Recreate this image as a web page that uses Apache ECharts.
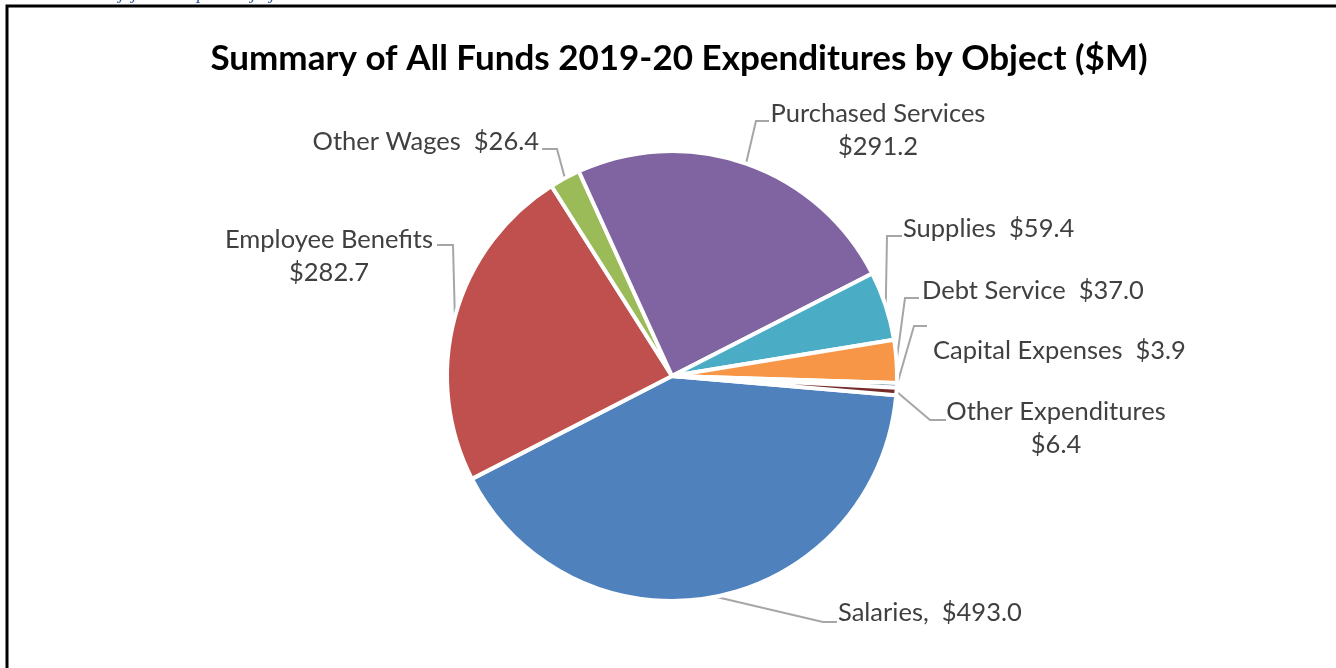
<!DOCTYPE html>
<html>
<head>
<meta charset="utf-8">
<title>Summary of All Funds 2019-20 Expenditures by Object</title>
<script src="https://cdn.jsdelivr.net/npm/echarts@6/dist/echarts.min.js"></script>
<style>
  html, body { margin: 0; padding: 0; background: #ffffff; }
  #chart { width: 1336px; height: 668px; }
</style>
</head>
<body>
<div id="chart"></div>
<script>
// Expenditure categories, in the order the slices run clockwise
const categories = [
  'Salaries',
  'Employee Benefits',
  'Other Wages',
  'Purchased Services',
  'Supplies',
  'Debt Service',
  'Capital Expenses',
  'Other Expenditures'
];
// Amounts in millions of dollars
const amounts = [493.0, 282.7, 26.4, 291.2, 59.4, 37.0, 3.9, 6.4];
// Text placed between a category name and its amount
const separators = [',  ', '\n', '  ', '\n', '  ', '  ', '  ', '\n'];

const sliceColors = ['#4F81BD', '#C0504D', '#9BBB59', '#8064A2', '#4BACC6', '#F79646', '#2C4D75', '#772C2A'];

// Where each label sits and how its leader line bends toward it
const labelPlacement = [
  { x: 838,  y: 613, align: 'left',   elbow: [823, 622], end: [837, 622] },
  { x: 329,  y: 256, align: 'center', elbow: [453, 245], end: [437, 245] },
  { x: 539,  y: 142, align: 'right',  elbow: [557, 149], end: [542, 149] },
  { x: 878,  y: 130, align: 'center', elbow: [756, 121], end: [769, 121] },
  { x: 903,  y: 229, align: 'left',   elbow: [887, 236], end: [902, 236] },
  { x: 922,  y: 291, align: 'left',   elbow: [905, 298], end: [919, 298] },
  { x: 933,  y: 351, align: 'left',   elbow: [914, 326], end: [927, 326] },
  { x: 1056, y: 428, align: 'center', elbow: [930, 420], end: [946, 420] }
];

const pieData = categories.map((name, i) => ({
  name: name,
  value: amounts[i],
  itemStyle: { color: sliceColors[i] }
}));

const chart = echarts.init(document.getElementById('chart'), null, { renderer: 'canvas' });

chart.setOption({
  backgroundColor: '#ffffff',
  animation: false,
  title: {
    text: 'Summary of All Funds 2019-20 Expenditures by Object ($M)',
    left: 674,
    top: 54,
    textAlign: 'center',
    textVerticalAlign: 'middle',
    textStyle: {
      fontFamily: 'Lato',
      fontWeight: 'bold',
      fontSize: 35,
      color: '#000000'
    }
  },
  graphic: [
    // chart frame
    {
      type: 'rect',
      shape: { x: 7, y: 6, width: 1345, height: 700 },
      style: { fill: 'none', stroke: '#000000', lineWidth: 3 },
      silent: true
    },
    // descenders of the caption line running above the frame
    { type: 'text', x: 119, y: -15, style: { text: 'j', font: 'italic 18px "Liberation Serif"', fill: '#2F5597' } },
    { type: 'text', x: 132, y: -15, style: { text: 'j', font: 'italic 18px "Liberation Serif"', fill: '#2F5597' } },
    { type: 'text', x: 197, y: -15, style: { text: 'p', font: 'italic 18px "Liberation Serif"', fill: '#2F5597' } },
    { type: 'text', x: 251, y: -15, style: { text: 'j', font: 'italic 18px "Liberation Serif"', fill: '#2F5597' } },
    { type: 'text', x: 270, y: -15, style: { text: 'j', font: 'italic 18px "Liberation Serif"', fill: '#2F5597' } }
  ],
  series: [{
    type: 'pie',
    center: [672, 376],
    radius: ['0%', 225],
    startAngle: -4.9,
    clockwise: true,
    avoidLabelOverlap: false,
    data: pieData,
    itemStyle: {
      borderColor: '#ffffff',
      borderWidth: 4
    },
    label: {
      show: true,
      position: 'outside',
      formatter: (p) => p.name + separators[p.dataIndex] + '$' + p.value.toFixed(1),
      fontFamily: 'Lato',
      fontSize: 25.5,
      lineHeight: 33,
      color: '#404040'
    },
    labelLine: {
      show: true,
      length: 20,
      length2: 15,
      smooth: false,
      lineStyle: { color: '#A6A6A6', width: 2 }
    },
    labelLayout: function (params) {
      const place = labelPlacement[params.dataIndex];
      const start = params.labelLinePoints ? params.labelLinePoints[0] : place.elbow;
      return {
        x: place.x,
        y: place.y,
        align: place.align,
        verticalAlign: 'middle',
        labelLinePoints: [start, place.elbow, place.end]
      };
    },
    emphasis: { disabled: true }
  }]
});
</script>
</body>
</html>
